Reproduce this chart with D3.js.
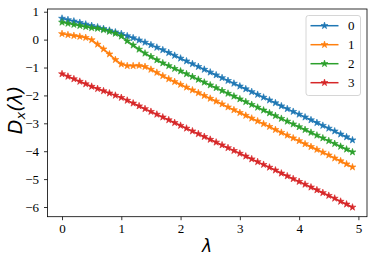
<!DOCTYPE html>
<html>
<head>
<meta charset="utf-8">
<script src="https://cdn.jsdelivr.net/npm/d3@7"></script>
<style>
  html, body { margin: 0; padding: 0; background: #fff; }
  svg { display: block; }
</style>
</head>
<body>
<svg id="chart" width="374" height="262"></svg>
<script>
const lambdas = [0.0,0.1,0.2,0.3,0.4,0.5,0.6,0.7,0.8,0.9,
                 1.0,1.1,1.2,1.3,1.4,1.5,1.6,1.7,1.8,1.9,
                 2.0,2.1,2.2,2.3,2.4,2.5,2.6,2.7,2.8,2.9,
                 3.0,3.1,3.2,3.3,3.4,3.5,3.6,3.7,3.8,3.9,
                 4.0,4.1,4.2,4.3,4.4,4.5,4.6,4.7,4.8,4.9];
const series0 = [0.76,0.71,0.66,0.61,0.55,0.50,0.45,0.39,0.33,0.27,
                 0.21,0.13,0.06,-0.02,-0.10,-0.19,-0.28,-0.37,-0.47,-0.57,
                 -0.67,-0.77,-0.87,-0.97,-1.07,-1.17,-1.27,-1.37,-1.47,-1.57,
                 -1.67,-1.77,-1.87,-1.97,-2.07,-2.17,-2.27,-2.38,-2.48,-2.58,
                 -2.68,-2.78,-2.88,-2.98,-3.08,-3.18,-3.28,-3.39,-3.49,-3.60];
const series1 = [0.21,0.17,0.14,0.11,0.07,-0.01,-0.17,-0.34,-0.52,-0.72,
                 -0.88,-0.94,-0.94,-0.93,-0.97,-1.07,-1.18,-1.30,-1.41,-1.51,
                 -1.61,-1.71,-1.81,-1.91,-2.01,-2.11,-2.21,-2.31,-2.42,-2.52,
                 -2.62,-2.72,-2.82,-2.92,-3.02,-3.12,-3.23,-3.33,-3.43,-3.53,
                 -3.63,-3.74,-3.84,-3.94,-4.04,-4.14,-4.25,-4.35,-4.46,-4.57];
const series2 = [0.62,0.58,0.54,0.50,0.46,0.42,0.40,0.35,0.29,0.22,
                 0.12,-0.05,-0.20,-0.35,-0.49,-0.61,-0.73,-0.84,-0.94,-1.04,
                 -1.13,-1.23,-1.33,-1.43,-1.53,-1.63,-1.73,-1.83,-1.93,-2.03,
                 -2.13,-2.23,-2.33,-2.43,-2.53,-2.63,-2.73,-2.83,-2.93,-3.03,
                 -3.13,-3.23,-3.33,-3.43,-3.53,-3.63,-3.73,-3.83,-3.93,-4.03];
const series3 = [-1.23,-1.32,-1.41,-1.50,-1.59,-1.68,-1.76,-1.84,-1.92,-2.00,
                 -2.08,-2.18,-2.28,-2.38,-2.48,-2.58,-2.68,-2.78,-2.88,-2.98,
                 -3.08,-3.18,-3.28,-3.38,-3.48,-3.58,-3.68,-3.78,-3.88,-3.98,
                 -4.08,-4.18,-4.28,-4.38,-4.48,-4.58,-4.68,-4.79,-4.89,-4.99,
                 -5.09,-5.19,-5.29,-5.39,-5.49,-5.59,-5.69,-5.80,-5.90,-6.01];
const seriesNames = ["0","1","2","3"];
const seriesValues = [series0, series1, series2, series3];
const colors = ["#1f77b4","#ff7f0e","#2ca02c","#d62728"];
const xTicks = [0,1,2,3,4,5];
const yTicks = [1,0,-1,-2,-3,-4,-5,-6];

(function () {
const svg = d3.select("#chart");
const pLeft = 47.5, pRight = 367, pTop = 9, pBottom = 216.7;
const x = d3.scaleLinear().domain([-0.245, 5.145]).range([pLeft, pRight]);
const y = d3.scaleLinear().domain([-6.3475, 1.0975]).range([pBottom, pTop]);

const serif = "'Liberation Serif','Times New Roman',serif";
const fmt = d => (d < 0 ? "\u2212" + Math.abs(d) : String(d));

// lines and markers
const line = d3.line().x((d, i) => x(lambdas[i])).y(d => y(d));
const star = d3.symbol().type(d3.symbolStar).size(15);
const plot = svg.append("g");
seriesValues.forEach((vals, s) => {
  plot.append("path").datum(vals)
    .attr("d", line).attr("fill", "none")
    .attr("stroke", colors[s]).attr("stroke-width", 1.5);
  plot.selectAll(".m" + s).data(vals).enter().append("path")
    .attr("d", star)
    .attr("transform", (d, i) => `translate(${x(lambdas[i])},${y(d)})`)
    .attr("fill", colors[s]).attr("stroke", colors[s]).attr("stroke-width", 0.6);
});

// axes
const xAxis = d3.axisBottom(x).tickValues(xTicks).tickSize(3.5).tickPadding(3.5).tickFormat(fmt);
const yAxis = d3.axisLeft(y).tickValues(yTicks).tickSize(3.5).tickPadding(5).tickFormat(fmt);
const gx = svg.append("g").attr("transform", `translate(0,${pBottom})`).call(xAxis);
const gy = svg.append("g").attr("transform", `translate(${pLeft},0)`).call(yAxis);
[gx, gy].forEach(g => {
  g.attr("font-family", serif).attr("font-size", 13);
  g.select(".domain").remove();
  g.selectAll(".tick line").attr("stroke", "#000").attr("stroke-width", 0.8);
  g.selectAll(".tick text").attr("fill", "#000")
    .style("font-family", serif).style("font-size", "13px");
});

// frame
svg.append("rect").attr("x", pLeft).attr("y", pTop)
  .attr("width", pRight - pLeft).attr("height", pBottom - pTop)
  .attr("fill", "none").attr("stroke", "#000").attr("stroke-width", 0.8);

// axis labels
svg.append("text").attr("x", 207).attr("y", 251.5)
  .attr("text-anchor", "middle")
  .style("font-family", "'DejaVu Sans',sans-serif").style("font-style", "italic")
  .style("font-size", "17px").text("λ");
const yl = svg.append("text").attr("transform", "translate(21.5,110) rotate(-90)")
  .attr("text-anchor", "middle")
  .style("font-family", "'DejaVu Sans',sans-serif").style("font-style", "italic")
  .style("font-size", "19px");
yl.append("tspan").text("D");
yl.append("tspan").attr("dy", 3.5).style("font-size", "13px").text("x");
yl.append("tspan").attr("dy", -3.5).text("(λ)");

// legend
const lg = svg.append("g");
lg.append("rect").attr("x", 306).attr("y", 15.5).attr("width", 54.5).attr("height", 80)
  .attr("rx", 2.5).attr("fill", "#fff").attr("fill-opacity", 0.8)
  .attr("stroke", "#cccccc").attr("stroke-width", 0.8);
seriesNames.forEach((name, i) => {
  const yy = 25.7 + i * 19;
  lg.append("line").attr("x1", 310.5).attr("x2", 338.5).attr("y1", yy).attr("y2", yy)
    .attr("stroke", colors[i]).attr("stroke-width", 1.5);
  lg.append("path").attr("d", star).attr("transform", `translate(324.5,${yy})`)
    .attr("fill", colors[i]).attr("stroke", colors[i]).attr("stroke-width", 0.6);
  lg.append("text").attr("x", 348).attr("y", yy).attr("dy", "0.35em")
    .style("font-family", serif).style("font-size", "13px").text(name);
});
})();
</script>
</body>
</html>
